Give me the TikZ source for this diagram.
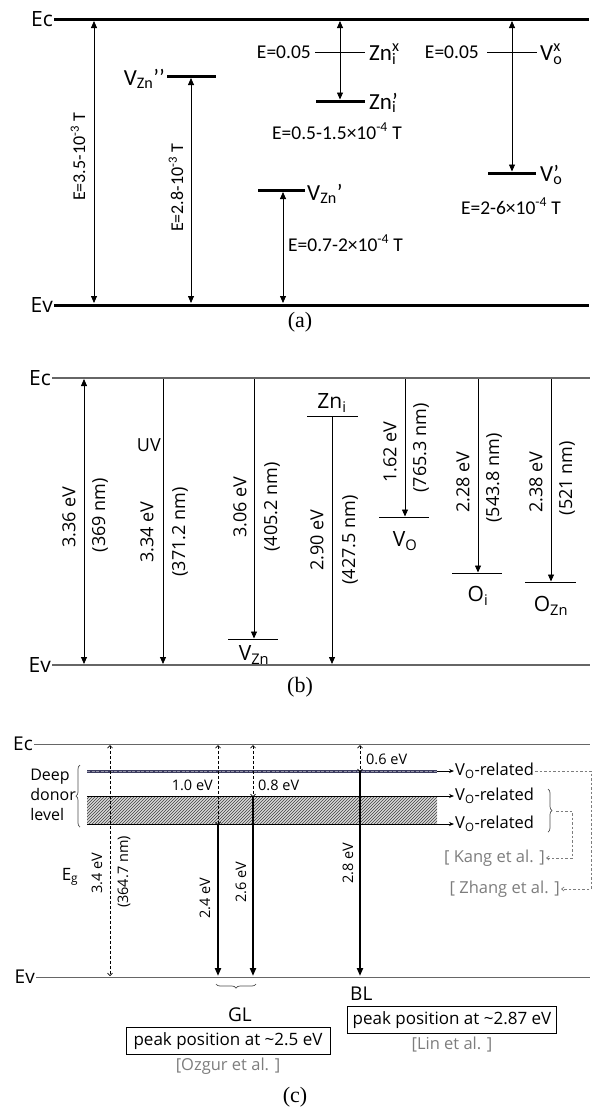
\documentclass[tikz,border=0pt]{standalone}
\usepackage{fontspec}
\setmainfont{Carlito}
\newfontfamily\gothic{Open Sans}
\newfontfamily\serifcap{Liberation Serif}
\usetikzlibrary{arrows.meta,positioning,decorations.pathreplacing,patterns}
\definecolor{deepc}{RGB}{60,60,95}
\definecolor{refc}{RGB}{125,125,125}
\newcommand\subsup[2]{\rlap{\textsubscript{#1}}\textsuperscript{#2}}
\tikzset{
 band/.style={line width=3pt},
 lvl/.style={line width=3pt},
 thinlvl/.style={line width=0.7pt},
 blvl/.style={line width=1pt},
 bband/.style={line width=1.1pt,black!60},
 cband/.style={line width=1pt,black!60},
 dbl/.style={{Triangle[length=7pt,width=6pt]}-{Triangle[length=7pt,width=6pt]},line width=0.8pt},
 fall/.style={-{Triangle[length=7pt,width=6pt]},line width=0.8pt},
 gaparr/.style={{Straight Barb[length=2.5pt,width=5pt]}-{Straight Barb[length=2.5pt,width=5pt]},line width=0.7pt,dash pattern=on 3pt off 2pt},
 emit/.style={-{Triangle[length=8pt,width=6pt]},line width=2pt},
 feed/.style={-{Stealth[length=5pt,width=4pt]},line width=0.7pt},
 cite/.style={refc,dash pattern=on 2.5pt off 2pt,line width=0.7pt,-{Straight Barb[length=2.5pt,width=4pt]}},
 brace/.style={decorate,decoration={brace,amplitude=4pt},line width=0.7pt,black!70},
 bandlab/.style={anchor=east,inner sep=1pt,font=\gothic\fontsize{21}{24}\selectfont},
 alab/.style={inner sep=1pt,font=\fontsize{19.5}{21}\selectfont},
 arot/.style={inner sep=1pt,rotate=90,font=\fontsize{18}{20}\selectfont},
 alvl/.style={inner sep=1pt,font=\fontsize{23}{25}\selectfont},
 blab/.style={inner sep=1pt,font=\gothic\fontsize{18}{20}\selectfont},
 blvlab/.style={inner sep=1pt,font=\gothic\fontsize{21}{23}\selectfont},
 clab/.style={inner sep=1pt,font=\gothic\fontsize{14.5}{16}\selectfont},
 vlab/.style={inner sep=1pt,font=\gothic\fontsize{16.5}{18}\selectfont},
 reflab/.style={inner sep=1pt,refc,font=\gothic\fontsize{16.5}{18}\selectfont},
 peak/.style={draw,line width=0.8pt,inner sep=2pt,minimum height=27pt,font=\gothic\fontsize{17}{19}\selectfont},
 caption/.style={font=\serifcap\fontsize{22}{24}\selectfont}
}

\begin{document}
\begin{tikzpicture}[x=1pt,y=-1pt]
\useasboundingbox (0,0) rectangle (599,1111);

% ---- (a) ----
\node[bandlab] (aEc) at (54,19) {Ec};
\node[bandlab] (aEv) at (54,305) {Ev};
\draw[band] (aEc.east) -- (589,19);
\draw[band] (aEv.east) -- (589,305);
\coordinate (aGapT) at (94,21); \coordinate (aGapB) at (94,303);
\draw[dbl] (aGapT) -- (aGapB);
\node[arot] (aGapE) at (78,157) {E=3.5-10\textsuperscript{-3} T};
% V_Zn''
\draw[lvl] (167,76) coordinate (aVznbL) -- (216,76);
\node[alvl,anchor=east] (aVznb) at (166,79) {V\textsubscript{Zn}’’};
\coordinate (aVznbT) at (191,78); \coordinate (aVznbB) at (191,303);
\draw[dbl] (aVznbT) -- (aVznbB);
\node[arot] (aVznbE) at (176,188) {E=2.8-10\textsuperscript{-3} T};
% V_Zn'
\draw[lvl] (258,190) -- (305,190);
\node[alvl,anchor=west] (aVzna) at (306,194) {V\textsubscript{Zn}’};
\coordinate (aVznaT) at (283,192); \coordinate (aVznaB) at (283,303);
\draw[dbl] (aVznaT) -- (aVznaB);
\node[alab,anchor=west] (aVznaE) at (287,243) {E=0.7-2×10\textsuperscript{-4} T};
% Zn_i
\draw[thinlvl] (315,52) coordinate (aZnxL) -- (365,52);
\node[alab,anchor=east] (aZnxE) at (312,52) {E=0.05};
\node[alvl,anchor=west] (aZnx) at (368,54) {Zn\subsup{i}{x}};
\draw[lvl] (316,101) -- (365,101);
\node[alvl,anchor=west] (aZna) at (368,103) {Zn\rlap{\textsubscript{i}}’};
\coordinate (aZnT) at (340,21); \coordinate (aZnB) at (340,99.5);
\draw[dbl] (aZnT) -- (aZnB);
\node[alab] (aZnaE) at (337,131) {E=0.5-1.5×10\textsuperscript{-4} T};
% V_o
\draw[thinlvl] (487,52) -- (537,52);
\node[alab,anchor=east] (aVoxE) at (480,52) {E=0.05};
\node[alvl,anchor=west] (aVox) at (539,54) {V\subsup{o}{x}};
\draw[lvl] (488,173) -- (536,173);
\node[alvl,anchor=west] (aVoa) at (539,175) {V\rlap{\textsubscript{o}}’};
\coordinate (aVoT) at (512,21); \coordinate (aVoB) at (512,171.5);
\draw[dbl] (aVoT) -- (aVoB);
\node[alab] (aVoaE) at (511,206) {E=2-6×10\textsuperscript{-4} T};
\node[caption] (capA) at (300,322) {(a)};

% ---- (b) ----
\node[bandlab] (bEc) at (52,378) {Ec};
\node[bandlab] (bEv) at (52,665) {Ev};
\draw[bband] (bEc.east) -- (590,378);
\draw[bband] (bEv.east) -- (590,665);
% band edge
\coordinate (bGapT) at (84,379); \coordinate (bGapB) at (84,664);
\draw[dbl] (bGapT) -- (bGapB);
\node[blab,rotate=90] (bGapE) at (69,517) {3.36 eV};
\node[blab,rotate=90] (bGapW) at (100,515) {(369 nm)};
% UV
\coordinate (bUvT) at (163,379); \coordinate (bUvB) at (163,664);
\draw[fall] (bUvT) -- (bUvB);
\node[blab,anchor=east] (bUv) at (162,445) {UV};
\node[blab,rotate=90] (bUvE) at (147,532) {3.34 eV};
\node[blab,rotate=90] (bUvW) at (180,532) {(371.2 nm)};
% V_Zn
\draw[blvl] (228,639) -- (278,639);
\coordinate (bVznT) at (254,379); \coordinate (bVznB) at (254,638.5);
\draw[fall] (bVznT) -- (bVznB);
\node[blvlab] (bVzn) at (254,655) {V\textsubscript{Zn}};
\node[blab,rotate=90] (bVznE) at (240,507) {3.06 eV};
\node[blab,rotate=90] (bVznW) at (272,507) {(405.2 nm)};
% Zn_i
\draw[blvl] (307,416) -- (358,416);
\node[blvlab] (bZni) at (332,403) {Zn\textsubscript{i}};
\coordinate (bZniT) at (332,416.5); \coordinate (bZniB) at (332,664);
\draw[fall] (bZniT) -- (bZniB);
\node[blab,rotate=90] (bZniE) at (317,540) {2.90 eV};
\node[blab,rotate=90] (bZniW) at (350,540) {(427.5 nm)};
% V_O
\draw[blvl] (379,517) -- (429,517);
\coordinate (bVoT) at (405,379); \coordinate (bVoB) at (405,516.5);
\draw[fall] (bVoT) -- (bVoB);
\node[blvlab] (bVo) at (405,541) {V\textsubscript{O}};
\node[blab,rotate=90] (bVoE) at (390,452) {1.62 eV};
\node[blab,rotate=90] (bVoW) at (421,448) {(765.3 nm)};
% O_i
\draw[blvl] (452,573) -- (502,573);
\coordinate (bOiT) at (478,379); \coordinate (bOiB) at (478,572.5);
\draw[fall] (bOiT) -- (bOiB);
\node[blvlab] (bOi) at (478,596) {O\textsubscript{i}};
\node[blab,rotate=90] (bOiE) at (463,482) {2.28 eV};
\node[blab,rotate=90] (bOiW) at (494,478) {(543.8 nm)};
% O_Zn
\draw[blvl] (525,582) -- (576,582);
\coordinate (bOznT) at (551,379); \coordinate (bOznB) at (551,581.5);
\draw[fall] (bOznT) -- (bOznB);
\node[blvlab] (bOzn) at (551,606) {O\textsubscript{Zn}};
\node[blab,rotate=90] (bOznE) at (536,482) {2.38 eV};
\node[blab,rotate=90] (bOznW) at (567,478) {(521 nm)};
\node[caption] (capB) at (300,687) {(b)};

% ---- (c) ----
\node[bandlab,font=\gothic\fontsize{19}{21}\selectfont] (cEc) at (34,744) {Ec};
\node[bandlab,font=\gothic\fontsize{19}{21}\selectfont] (cEv) at (36,977) {Ev};
\draw[cband] (cEc.east) -- (590,744);
\draw[cband] (cEv.east) -- (590,977);
% deep donor levels
\fill[gray!30] (87,796) rectangle (437,824);
\fill[pattern=north east lines,pattern color=black!75] (87,796) rectangle (437,824);
\draw[line width=3pt,deepc] (87,771) -- (437,771);
\draw[line width=0.9pt,white!45!deepc,dash pattern=on 3pt off 1.5pt] (87,771) -- (437,771);
\node[vlab,anchor=west] (cVoA) at (454,771) {V\textsubscript{O}-related};
\node[vlab,anchor=west] (cVoB) at (454,796) {V\textsubscript{O}-related};
\node[vlab,anchor=west] (cVoC) at (454,824) {V\textsubscript{O}-related};
\coordinate (cDeepA) at (437,771); \coordinate (cDeepB) at (87,796); \coordinate (cDeepC) at (87,824);
\draw[feed] (cDeepA) -- (cVoA.west);
\draw[feed] (cDeepB) -- (cVoB.west);
\draw[feed] (cDeepC) -- (cVoC.west);
\draw[brace] (80,827) -- (80,765);
\node[vlab,anchor=east,align=left,font=\gothic\fontsize{16}{20}\selectfont] (cDeep) at (77,795) {Deep\\donor\\level};
% references
\draw[brace] (548,789) -- (548,832);
\node[reflab,anchor=east] (cKang) at (546,858) {[ Kang et al. ]};
\node[reflab,anchor=east] (cZhang) at (561,889) {[ Zhang et al. ]};
\coordinate (cKangTip) at (556,811);
\draw[cite] (cKangTip) -- (572,811) |- (cKang.east);
\draw[cite] (cVoA.east) -- (591,771) |- (cZhang.east);
% band gap
\coordinate (cGapT) at (110,745); \coordinate (cGapB) at (110,976);
\draw[gaparr] (cGapT) -- (cGapB);
\node[vlab,font=\gothic\fontsize{17}{19}\selectfont] (cEg) at (70,877) {E\textsubscript{g}};
\node[clab,rotate=90] (cGapE) at (97,873) {3.4 eV};
\node[clab,rotate=90] (cGapW) at (124,872) {(364.7 nm)};
% green emission
\coordinate (cGlaT) at (218,745); \coordinate (cGlaM) at (218,824); \coordinate (cGlaB) at (218,976);
\draw[gaparr] (cGlaT) -- ([yshift=-1pt]cGlaM);
\draw[emit] (cGlaM) -- (cGlaB);
\node[clab,anchor=east] (cGlaD) at (214,785) {1.0 eV};
\node[clab,rotate=90] (cGlaE) at (205,898) {2.4 eV};
\coordinate (cGlbT) at (253,745); \coordinate (cGlbM) at (253,796); \coordinate (cGlbB) at (253,976);
\draw[gaparr] (cGlbT) -- ([yshift=-1pt]cGlbM);
\draw[emit] (cGlbM) -- (cGlbB);
\node[clab,anchor=west] (cGlbD) at (257,785) {0.8 eV};
\node[clab,rotate=90] (cGlbE) at (241,882) {2.6 eV};
% blue emission
\coordinate (cBlT) at (360,745); \coordinate (cBlM) at (360,771); \coordinate (cBlB) at (360,976);
\draw[gaparr] (cBlT) -- ([yshift=-1pt]cBlM);
\draw[emit] (cBlM) -- (cBlB);
\node[clab,anchor=west] (cBlD) at (365,759) {0.6 eV};
\node[clab,rotate=90] (cBlE) at (348,863) {2.8 eV};
% peaks
\draw[brace] (256,984) -- (216,984);
\node[vlab,font=\gothic\fontsize{19}{21}\selectfont] (cGl) at (240,1015) {GL};
\node[peak,minimum width=204pt] (cGlBox) at (228,1041) {peak position at \textasciitilde2.5 eV};
\node[reflab,below=2pt of cGlBox] (cOzgur) {[Ozgur et al. ]};
\node[vlab,anchor=west,font=\gothic\fontsize{19}{21}\selectfont] (cBl) at (349,994) {BL};
\node[peak,minimum width=209pt] (cBlBox) at (452,1020) {peak position at \textasciitilde2.87 eV};
\node[reflab,below=2pt of cBlBox] (cLin) {[Lin et al. ]};
\node[caption] (capC) at (295,1097) {(c)};
\end{tikzpicture}
\end{document}
